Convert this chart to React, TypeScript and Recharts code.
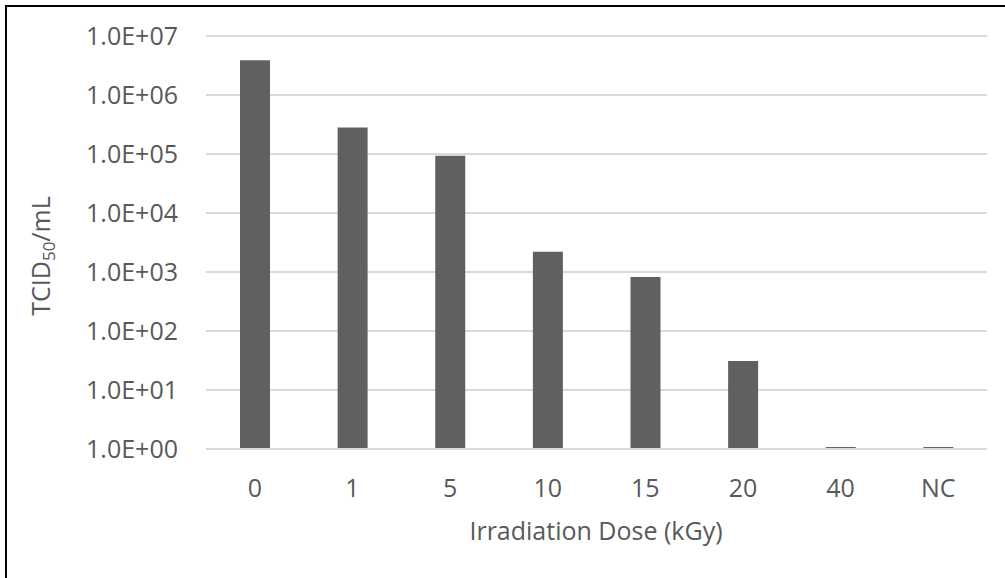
import { Bar, BarChart, CartesianGrid, XAxis, YAxis } from "recharts";

const doses = ["0", "1", "5", "10", "15", "20", "40", "NC"];
const titers = [3.9e6, 2.8e5, 9.3e4, 2.2e3, 8.2e2, 31, 1.08, 1.08];
const yTicks = [1, 10, 100, 1e3, 1e4, 1e5, 1e6, 1e7];

const data = doses.map((dose, i) => ({ dose, titer: titers[i] }));

const font = "'Open Sans', sans-serif";
const grey = "#595959";
const axis = { fontSize: 25, fill: grey, fontFamily: font };

const sci = (v: number) => {
  const exp = Math.round(Math.log10(v));
  return `1.0E+${String(exp).padStart(2, "0")}`;
};

const YTitle = () => (
  <text transform="translate(50,256) rotate(-90)" textAnchor="middle" fill={grey} fontSize={25} fontFamily={font}>
    TCID
    <tspan fontSize={17} dy={5}>50</tspan>
    <tspan dy={-5}>/mL</tspan>
  </text>
);

const XTitle = () => (
  <text x={596} y={540} textAnchor="middle" fill={grey} fontSize={25} fontFamily={font}>
    Irradiation Dose (kGy)
  </text>
);

export default function App() {
  return (
    <div style={{ position: "fixed", left: 0, top: 0, width: 1005, height: 578, overflow: "hidden", background: "#fff" }}>
      <div
        style={{
          position: "absolute",
          left: 5,
          top: 5,
          width: 1100,
          height: 700,
          borderLeft: "2px solid #000",
          borderTop: "2px solid #000",
        }}
      />
      <BarChart
        width={1005}
        height={578}
        data={data}
        margin={{ top: 36, right: 18, left: 116, bottom: 89 }}
        style={{ position: "absolute", left: 0, top: 0 }}
      >
        <CartesianGrid stroke="#d9d9d9" strokeWidth={2} vertical={false} />
        <XAxis
          dataKey="dose"
          height={40}
          tick={axis}
          axisLine={{ stroke: "#d9d9d9", strokeWidth: 2 }}
          tickLine={false}
          tickMargin={24}
          label={<XTitle />}
        />
        <YAxis
          scale="log"
          domain={[1, 1e7]}
          ticks={yTicks}
          allowDataOverflow
          width={90}
          tick={axis}
          axisLine={false}
          tickLine={false}
          tickMargin={22}
          tickFormatter={sci}
          label={<YTitle />}
        />
        <Bar dataKey="titer" fill="#606060" barSize={30} isAnimationActive={false} />
      </BarChart>
    </div>
  );
}
